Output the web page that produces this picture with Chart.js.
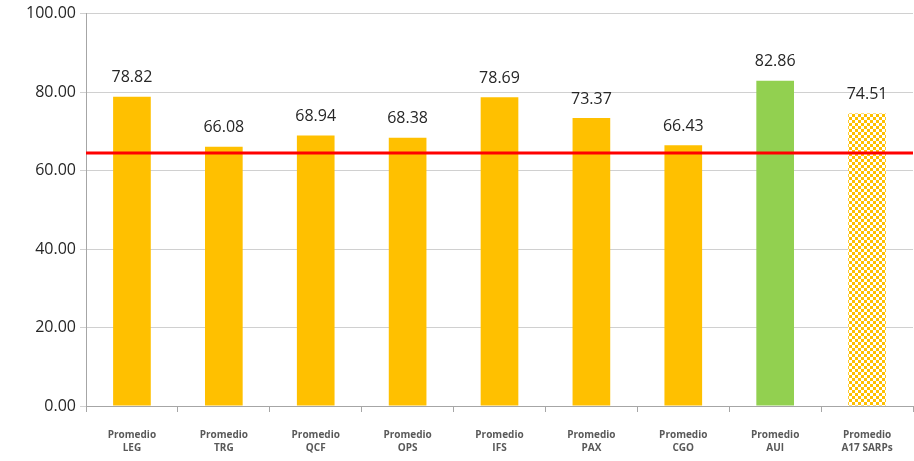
<!DOCTYPE html>
<html>
<head>
<meta charset="utf-8">
<script src="https://cdn.jsdelivr.net/npm/chart.js@4"></script>
<style>
  body { margin: 0; background: #fff; }
  #wrap { width: 914px; height: 461px; }
</style>
</head>
<body>
<div id="wrap"><canvas id="chart" width="914" height="461"></canvas></div>
<script>
// datos del grafico
const categories = [
  ["Promedio", "LEG"], ["Promedio", "TRG"], ["Promedio", "QCF"],
  ["Promedio", "OPS"], ["Promedio", "IFS"], ["Promedio", "PAX"],
  ["Promedio", "CGO"], ["Promedio", "AUI"], ["Promedio", "A17 SARPs"]
];
const values = [78.82, 66.08, 68.94, 68.38, 78.69, 73.37, 66.43, 82.86, 74.51];
const threshold = 64.5;
const yTicks = [0, 20, 40, 60, 80, 100];

// patron a cuadros para la ultima barra
function checkerPattern() {
  const c = document.createElement("canvas");
  c.width = 6; c.height = 6;
  const g = c.getContext("2d");
  g.fillStyle = "#ffffff";
  g.fillRect(0, 0, 6, 6);
  g.fillStyle = "#FFC000";
  g.fillRect(0, 0, 3, 3);
  g.fillRect(3, 3, 3, 3);
  return g.createPattern(c, "repeat");
}

const ctx = document.getElementById("chart").getContext("2d");
const colors = values.map((v, i) => {
  if (i === 7) return "#92D050";
  if (i === 8) return checkerPattern();
  return "#FFC000";
});

// linea roja y etiquetas de valores
const extras = {
  id: "extras",
  afterDatasetsDraw(chart) {
    const { ctx, chartArea, scales } = chart;
    const y = scales.y.getPixelForValue(threshold);
    ctx.save();
    ctx.strokeStyle = "#FF0000";
    ctx.lineWidth = 3;
    ctx.beginPath();
    ctx.moveTo(chartArea.left, y);
    ctx.lineTo(chartArea.right, y);
    ctx.stroke();

    ctx.fillStyle = "#262626";
    ctx.font = "16px 'Open Sans'";
    ctx.textAlign = "center";
    ctx.textBaseline = "bottom";
    chart.getDatasetMeta(0).data.forEach((bar, i) => {
      ctx.fillText(values[i].toFixed(2), bar.x, bar.y - 11);
    });
    ctx.restore();
  }
};

new Chart(ctx, {
  type: "bar",
  data: {
    labels: categories,
    datasets: [{
      data: values,
      backgroundColor: colors,
      categoryPercentage: 1,
      barPercentage: 0.41
    }]
  },
  options: {
    responsive: false,
    animation: false,
    layout: { padding: { top: 11, right: 1, left: 0, bottom: 0 } },
    plugins: { legend: { display: false }, tooltip: { enabled: false } },
    scales: {
      x: {
        offset: true,
        grid: {
          offset: true,
          drawOnChartArea: false,
          drawTicks: true,
          tickLength: 6,
          color: "#a6a6a6"
        },
        border: { display: true, color: "#a6a6a6" },
        ticks: {
          color: "#595959",
          font: { family: "'Open Sans'", size: 10, weight: "bold", lineHeight: 1.35 },
          padding: 16,
          maxRotation: 0
        },
        afterFit(scale) { scale.height = 55; }
      },
      y: {
        min: 0,
        max: 100,
        afterBuildTicks(scale) { scale.ticks = yTicks.map(v => ({ value: v })); },
        grid: { color: "#d0d0d0", tickLength: 6 },
        border: { display: true, color: "#a6a6a6" },
        ticks: {
          color: "#262626",
          font: { family: "'Open Sans'", size: 16 },
          padding: 4,
          callback: v => v.toFixed(2)
        },
        afterFit(scale) { scale.width = 86; }
      }
    }
  },
  plugins: [extras]
});
</script>
</body>
</html>
